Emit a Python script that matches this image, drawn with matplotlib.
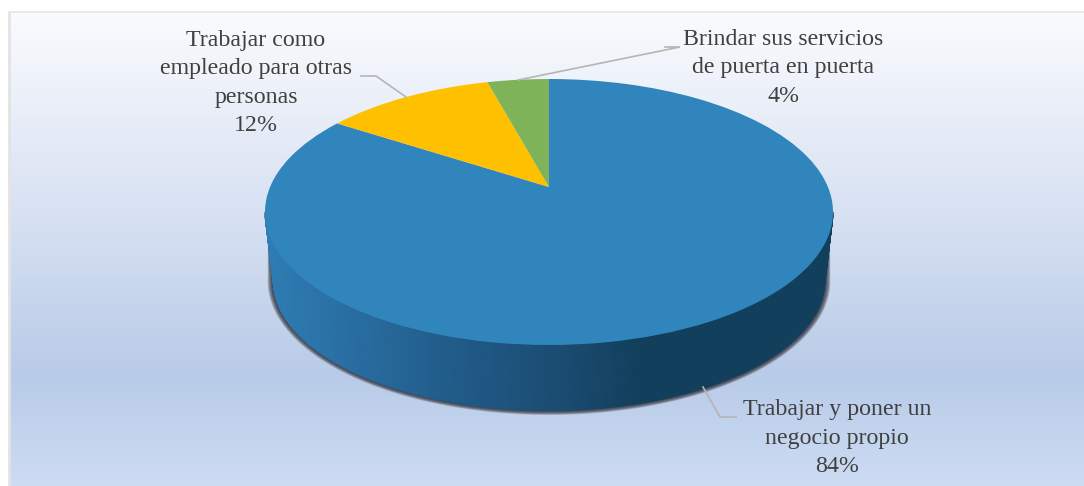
import numpy as np
import matplotlib
matplotlib.use('Agg')
import matplotlib.pyplot as plt
from matplotlib.colors import LinearSegmentedColormap
from matplotlib.transforms import Transform, Affine2D

# data (slice angles give slightly finer values than the labels)
labels = ['Trabajar y poner un\nnegocio propio',
          'Trabajar como\nempleado para otras\npersonas',
          'Brindar sus servicios\nde puerta en puerta']
shares = [84.2, 11.6, 4.2]
colors = ['#3185BD', '#FFC000', '#7EB35A']

TILT = 0.188   # how far the apex sits above the middle of the ellipse


class TiltedDisc(Transform):
    """Perspective map of the unit disc onto itself, moves the centre back."""
    input_dims = 2
    output_dims = 2

    def transform_non_affine(self, xy):
        xy = np.asarray(xy, dtype=float)
        den = 1 + TILT * xy[:, 1]
        return np.column_stack((xy[:, 0] * np.sqrt(1 - TILT ** 2) / den,
                                (xy[:, 1] + TILT) / den))


plt.rcParams['font.family'] = ['Liberation Serif', 'DejaVu Serif']

fig = plt.figure(figsize=(10.84, 4.86), dpi=100, facecolor='white')
ax = fig.add_axes([0, 0, 1, 1])

# pie first, it resets the axes
wedges, _ = ax.pie(shares, colors=colors, startangle=90, counterclock=False,
                   radius=1, wedgeprops={'linewidth': 0})

# work in picture pixels from here on
ax.set_aspect('auto')
ax.axis('off')

to_top = TiltedDisc() + Affine2D().scale(284, -133).translate(549, 212) + ax.transData
for w in wedges:
    w.set_transform(to_top)
    w.set_zorder(5)

# background, runs off the right and bottom edges
bg = LinearSegmentedColormap.from_list('bg', [(0.0, '#FAFBFE'), (0.40, '#DAE3F3'),
                                              (0.77, '#B8CBE8'), (1.0, '#CDDCF3')])
ax.imshow(np.linspace(0, 1, 256).reshape(-1, 1), cmap=bg, aspect='auto',
          extent=(9, 1084, 486, 12), zorder=0)
ax.set_xlim(0, 1084)
ax.set_ylim(486, 0)
ax.plot([9, 9], [486, 12], color='#E3E3E3', lw=2, zorder=1, solid_capstyle='butt')
ax.plot([8, 1084], [12, 12], color='#E3E6E6', lw=1.2, zorder=1, solid_capstyle='butt')

# soft shadow round the base, tapers off to a point up the sides
t = np.radians(np.linspace(180, 360, 200))
for dr in np.arange(0.5, 6.5, 0.5):
    sx = 549 + (275.5 + dr) * np.cos(t)
    sy = 281 - (129.5 + dr * 0.75) * np.sin(t)
    ax.fill(np.r_[268, sx, 830], np.r_[240, sy, 240],
            color='#2A2A32', alpha=0.14, lw=0, zorder=2)

# side wall
wall = LinearSegmentedColormap.from_list('wall', [(0.0, '#2E7DB4'), (0.13, '#2A70A4'),
                                                  (0.324, '#215C8A'), (0.518, '#1B4C72'),
                                                  (0.658, '#123F5C'), (1.0, '#123F5C')])
X = np.vstack((549 + 284 * np.cos(t), 549 + 275.5 * np.cos(t)))
Y = np.vstack((212 - 133 * np.sin(t), 281 - 129.5 * np.sin(t)))
ax.pcolormesh(X, Y, X, cmap=wall, shading='gouraud', vmin=266, vmax=834, zorder=3)

# leader lines
leaders = [([703, 720, 736], [387, 417, 417]),
           ([361, 376, 406], [76, 76, 97]),
           ([665, 680, 518], [47, 47, 80])]
for lx, ly in leaders:
    ax.plot(lx, ly, color='#B5B5B5', lw=1.2, zorder=6, solid_joinstyle='miter')

# data labels
label_pos = [(837, 438), (256, 83), (783, 68)]
for name, share, (px, py) in zip(labels, shares, label_pos):
    ax.text(px, py, f'{name}\n{share:.0f}%', ha='center', va='center', fontsize=17.2,
            color='#404040', linespacing=1.45, zorder=7)

fig.savefig('out.png', dpi=100)
